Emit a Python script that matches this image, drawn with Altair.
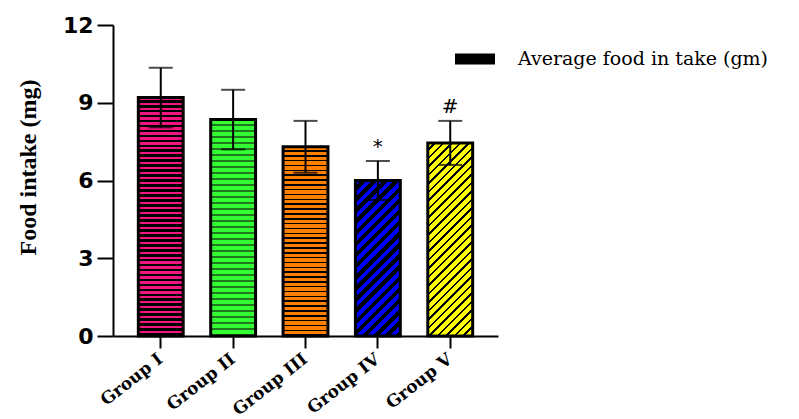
import math
import altair as alt
import pandas as pd

# ---------------- data ----------------
groups = ["Group I", "Group II", "Group III", "Group IV", "Group V"]
means = [9.2, 8.35, 7.3, 6.0, 7.45]
errors = [1.15, 1.15, 1.0, 0.75, 0.85]
marks = ["", "", "", "*", "#"]
series_name = "Average food in take (gm)"
y_ticks = [0, 3, 6, 9, 12]

df = pd.DataFrame({
    "group": groups,
    "mean": means,
    "err": errors,
    "mark": marks,
    "series": [series_name] * len(groups),
})
df["lo"] = df["mean"] - df["err"]
df["hi"] = df["mean"] + df["err"]

# ---------------- layout / style ----------------
W, H = 385, 311
Y_MAX = 12
P_IN, P_OUT = 0.38, 0.35
STEP = W / (len(groups) - P_IN + 2 * P_OUT)
BW = STEP * (1 - P_IN)

# pattern styles: (main colour, line colour, period px, main fraction, direction)
patterns = {
    "Group I": ("#f0157f", "#000000", 5.0, 0.45, "h"),
    "Group II": ("#33ff33", "#1f7a1f", 6.0, 0.72, "h"),
    "Group III": ("#ff8000", "#000000", 4.8, 0.68, "h"),
    "Group IV": ("#0000ff", "#000000", 8.0, 0.5, "d"),
    "Group V": ("#ffff00", "#000000", 6.0, 0.72, "d"),
}


def stripe_gradient(val, style):
    main, line, period, frac, direction = style
    h = val / Y_MAX * H
    w = BW
    if direction == "h":
        n = max(1, round(h / period))
        x2, y2 = 0, 1
    else:
        a = w / h
        k = (w + h) / (h * (1 + a * a))
        x2, y2 = k * a, k
        n = max(1, round((w + h) / math.sqrt(2) / period))
    stops = []
    for i in range(n):
        o0 = i / n
        o1 = (i + frac) / n
        o2 = (i + 1) / n
        stops += [
            alt.GradientStop(offset=o0, color=main),
            alt.GradientStop(offset=o1, color=main),
            alt.GradientStop(offset=o1, color=line),
            alt.GradientStop(offset=o2, color=line),
        ]
    return alt.LinearGradient(gradient="linear", stops=stops, x1=0, y1=0, x2=x2, y2=y2)


x_enc = alt.X(
    "group:N",
    sort=groups,
    scale=alt.Scale(domain=groups, paddingInner=P_IN, paddingOuter=P_OUT),
    axis=alt.Axis(
        title=None,
        labelAngle=-38,
        labelFont="DejaVu Serif",
        labelFontWeight="bold",
        labelFontSize=17,
        labelColor="black",
        labelAlign="right",
        labelBaseline="middle",
        labelPadding=9,
        tickSize=12,
        tickWidth=2,
        tickColor="black",
        domainColor="black",
        domainWidth=2,
    ),
)

y_enc = alt.Y(
    "mean:Q",
    scale=alt.Scale(domain=[0, Y_MAX], nice=False),
    axis=alt.Axis(
        values=y_ticks,
        title="Food intake (mg)",
        titleFont="Liberation Serif",
        titleFontWeight="bold",
        titleFontSize=24,
        titleColor="black",
        titlePadding=22,
        titleY=142,
        labelFont="DejaVu Sans",
        labelFontWeight="bold",
        labelFontSize=22,
        labelColor="black",
        labelPadding=4,
        tickSize=16,
        tickWidth=2,
        tickColor="black",
        domainColor="black",
        domainWidth=2,
        grid=False,
    ),
)

base = alt.Chart(df)

bar_layers = []
for g, v in zip(groups, means):
    bar_layers.append(
        base.transform_filter(alt.datum.group == g)
        .mark_bar(fill=stripe_gradient(v, patterns[g]), stroke="black", strokeWidth=3)
        .encode(x=x_enc, y=y_enc)
    )

legend_layer = (
    base.transform_filter("datum.mean < 0")
    .mark_bar()
    .encode(
        x=x_enc,
        y=y_enc,
        color=alt.Color(
            "series:N",
            scale=alt.Scale(domain=[series_name], range=["black"]),
            legend=alt.Legend(
                title=None,
                orient="none",
                legendX=342,
                legendY=14,
                padding=0,
                symbolType="M-1,-0.27L1,-0.27L1,0.27L-1,0.27Z",
                symbolSize=1600,
                symbolStrokeWidth=0,
                labelFont="DejaVu Serif",
                labelFontSize=19,
                labelColor="black",
                labelOffset=23,
                labelLimit=400,
            ),
        ),
    )
)

err_rule = base.mark_rule(color="black", strokeWidth=2).encode(
    x=x_enc, y=alt.Y("lo:Q"), y2="hi:Q"
)
cap_hi = base.mark_tick(color="black", size=24, thickness=2).encode(x=x_enc, y="hi:Q")
cap_lo = base.mark_tick(color="black", size=24, thickness=2).encode(x=x_enc, y="lo:Q")

sig_text = base.mark_text(
    font="DejaVu Sans", fontSize=20, baseline="alphabetic", dy=-8, color="black"
).encode(x=x_enc, y="hi:Q", text="mark:N")

chart = (
    alt.layer(*bar_layers, legend_layer, err_rule, cap_hi, cap_lo, sig_text)
    .properties(
        width=W,
        height=H,
        autosize="none",
        padding={"left": 105, "top": 17, "right": 293, "bottom": 84},
        background="white",
    )
    .configure_view(stroke=None)
)

chart.save("out.html", embed_options={"renderer": "svg", "actions": False})
